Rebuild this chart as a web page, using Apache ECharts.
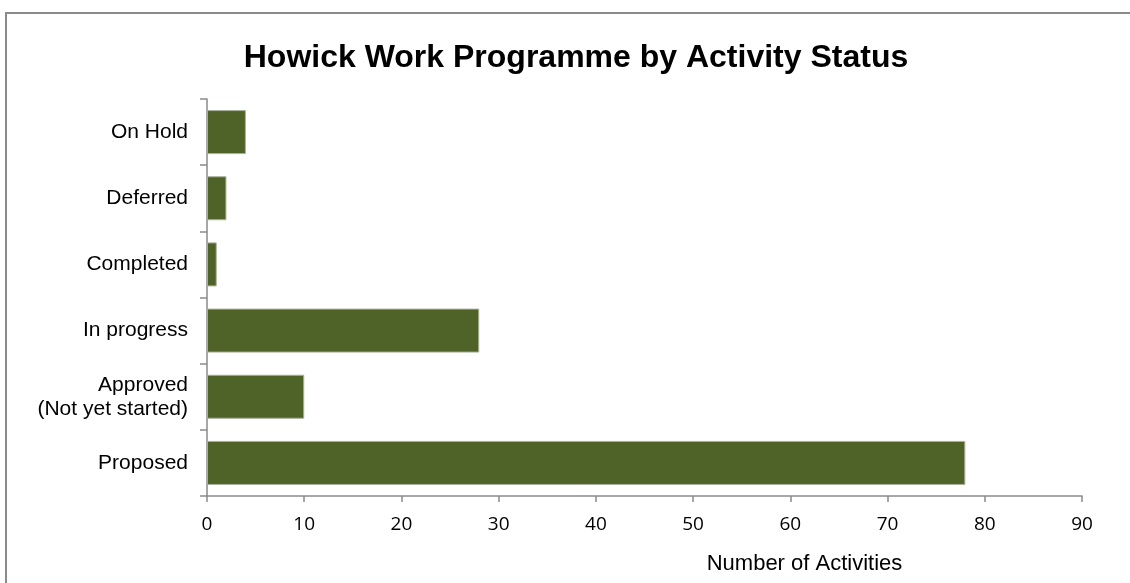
<!DOCTYPE html>
<html>
<head>
<meta charset="utf-8">
<title>Howick Work Programme by Activity Status</title>
<script src="https://cdn.jsdelivr.net/npm/echarts@6/dist/echarts.min.js"></script>
<style>
  html, body { margin: 0; padding: 0; background: #fff; }
  #chart { width: 1130px; height: 583px; }
</style>
</head>
<body>
<div id="chart"></div>
<script>
// data, bottom to top
const categories = ['Proposed', 'Approved\n(Not yet started)', 'In progress', 'Completed', 'Deferred', 'On Hold']
const activityCounts = [78, 10, 28, 1, 2, 4]
const xTicks = { min: 0, max: 90, interval: 10 }

const chart = echarts.init(document.getElementById('chart'))

const option = {
  animation: false,
  backgroundColor: '#fff',
  title: {
    text: 'Howick Work Programme by Activity Status',
    left: 576,
    textAlign: 'center',
    top: 42,
    padding: 0,
    textStyle: {
      fontFamily: 'Liberation Sans, Arial, sans-serif',
      fontSize: 32,
      fontWeight: 'bold',
      color: '#000'
    }
  },
  graphic: [{
    type: 'rect',
    shape: { x: 6, y: 13, width: 1200, height: 700 },
    style: { fill: null, stroke: '#8a8a8a', lineWidth: 2 },
    silent: true
  }],
  grid: {
    left: 207,
    right: 48,
    top: 99,
    bottom: 87,
    containLabel: false
  },
  xAxis: {
    type: 'value',
    min: xTicks.min,
    max: xTicks.max,
    interval: xTicks.interval,
    name: 'Number of Activities',
    nameLocation: 'middle',
    nameGap: 57,
    nameTextStyle: {
      fontFamily: 'Liberation Sans, Arial, sans-serif',
      fontSize: 22,
      color: '#000',
      padding: [0, 0, 0, 320]
    },
    axisLine: { show: true, lineStyle: { color: '#8a8a8a', width: 1.5 } },
    axisTick: { show: true, length: 6, lineStyle: { color: '#8a8a8a', width: 1.5 } },
    axisLabel: {
      margin: 19,
      fontFamily: 'Open Sans, sans-serif',
      fontSize: 19,
      color: '#000'
    },
    splitLine: { show: false }
  },
  yAxis: {
    type: 'category',
    data: categories,
    axisLine: { show: true, lineStyle: { color: '#8a8a8a', width: 1.5 } },
    axisTick: { show: true, length: 7, lineStyle: { color: '#8a8a8a', width: 1.5 } },
    axisLabel: {
      margin: 19,
      fontFamily: 'Liberation Sans, Arial, sans-serif',
      fontSize: 21,
      lineHeight: 24,
      color: '#000',
      align: 'right'
    },
    splitLine: { show: false }
  },
  series: [{
    type: 'bar',
    data: activityCounts,
    barWidth: 44,
    itemStyle: {
      color: '#4f6228',
      borderColor: '#a9b19a',
      borderWidth: 1
    }
  }]
}

chart.setOption(option)
</script>
</body>
</html>
